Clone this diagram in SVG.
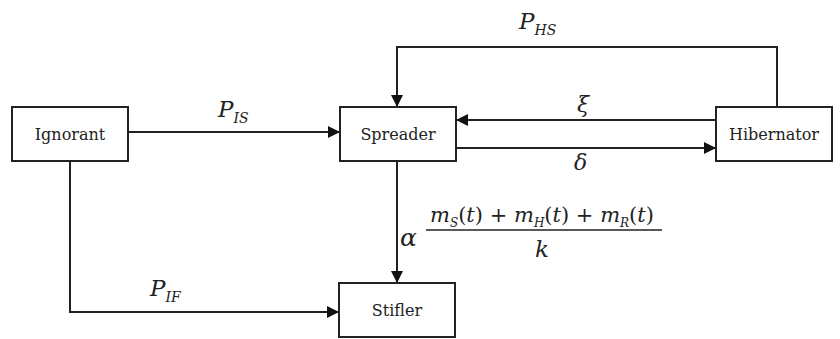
<svg xmlns="http://www.w3.org/2000/svg" width="840" height="339" viewBox="0 0 840 339">
<style>
.box{fill:#fff;stroke:#222;stroke-width:2}
.lbl{font-size:16px;fill:#222;text-anchor:middle}
.m{font-style:italic;fill:#222}
.ln{fill:none;stroke:#222;stroke-width:2}
</style>
<defs>
<marker id="ah" markerWidth="12" markerHeight="12" refX="11" refY="6" orient="auto" markerUnits="userSpaceOnUse">
<path d="M0,0 L12,6 L0,12 Z" fill="#111"/>
</marker>
</defs>
<rect width="840" height="339" fill="#fff"/>
<g id="connectors" font-family="DejaVu Serif, serif">
<path class="ln" d="M128,132 H339" marker-end="url(#ah)"/>
<path class="ln" d="M777,107 V47 H397 V106" marker-end="url(#ah)"/>
<path class="ln" d="M716,120 H457" marker-end="url(#ah)"/>
<path class="ln" d="M456,148 H715" marker-end="url(#ah)"/>
<path class="ln" d="M397,161 V282" marker-end="url(#ah)"/>
<path class="ln" d="M70,161 V312 H338" marker-end="url(#ah)"/>
<text class="m" x="519" y="29" font-size="23">P<tspan font-size="14" dy="6">HS</tspan></text>
<text class="m" x="218" y="117" font-size="23">P<tspan font-size="14" dy="6">IS</tspan></text>
<text class="m" x="577" y="112" font-size="22">ξ</text>
<text class="m" x="574" y="170" font-size="22">δ</text>
<text class="m" x="150" y="296" font-size="23">P<tspan font-size="14" dy="6">IF</tspan></text>
<text class="m" x="400" y="246" font-size="25">α</text>
<text class="m" x="430" y="222" font-size="21">m<tspan font-size="12" dy="5">S</tspan><tspan dy="-5" font-style="normal">(</tspan>t<tspan font-style="normal">) + </tspan>m<tspan font-size="12" dy="5">H</tspan><tspan dy="-5" font-style="normal">(</tspan>t<tspan font-style="normal">) + </tspan>m<tspan font-size="12" dy="5">R</tspan><tspan dy="-5" font-style="normal">(</tspan>t<tspan font-style="normal">)</tspan></text>
<line x1="426" y1="230" x2="662" y2="230" stroke="#222" stroke-width="1.5"/>
<text class="m" x="542" y="257" font-size="23" text-anchor="middle">k</text>
</g>
<g id="ignorant" font-family="DejaVu Serif, serif"><rect class="box" x="12" y="107" width="116" height="54"/><text class="lbl" x="70" y="140">Ignorant</text></g>
<g id="spreader" font-family="DejaVu Serif, serif"><rect class="box" x="340" y="107" width="116" height="54"/><text class="lbl" x="398" y="140">Spreader</text></g>
<g id="hibernator" font-family="DejaVu Serif, serif"><rect class="box" x="716" y="107" width="116" height="54"/><text class="lbl" x="774" y="140">Hibernator</text></g>
<g id="stifler" font-family="DejaVu Serif, serif"><rect class="box" x="339" y="283" width="116" height="54"/><text class="lbl" x="397" y="316">Stifler</text></g>
</svg>
